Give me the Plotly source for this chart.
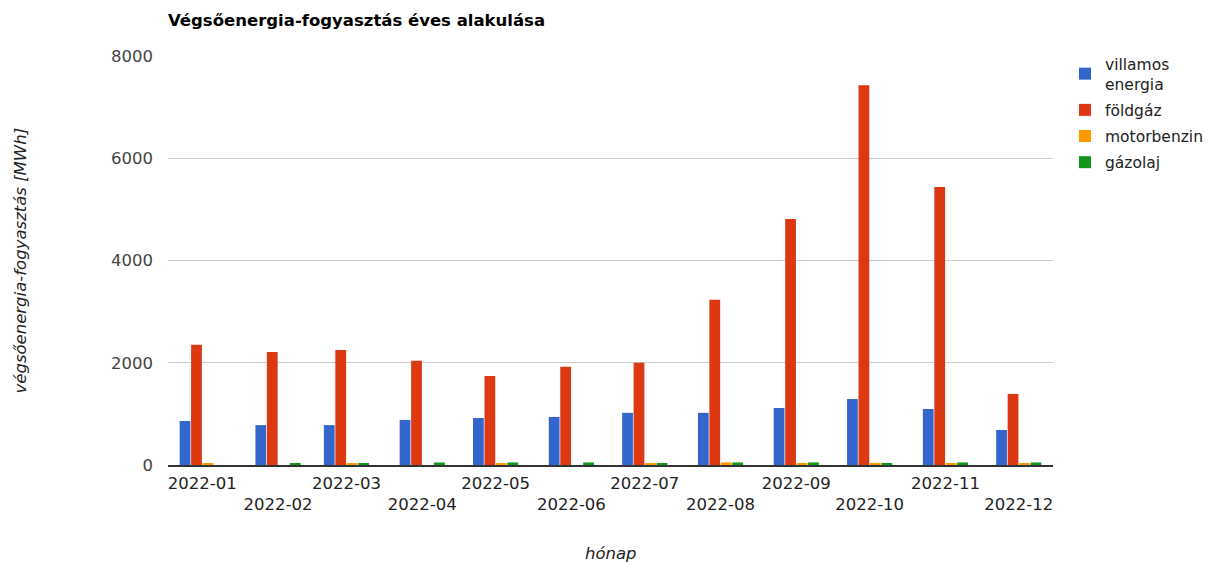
import plotly.graph_objects as go

months = ["2022-01", "2022-02", "2022-03", "2022-04", "2022-05", "2022-06",
          "2022-07", "2022-08", "2022-09", "2022-10", "2022-11", "2022-12"]
villamos_energia = [860, 780, 780, 880, 920, 940, 1020, 1020, 1115, 1290, 1095, 685]
foldgaz = [2350, 2210, 2250, 2040, 1740, 1920, 2000, 3230, 4810, 7430, 5440, 1390]
motorbenzin = [30, 0, 30, 0, 30, 0, 20, 50, 30, 30, 30, 30]
gazolaj = [0, 30, 30, 50, 50, 50, 30, 50, 50, 30, 50, 50]
y_ticks = [0, 2000, 4000, 6000, 8000]

tick_text = [m if i % 2 == 0 else "<br>" + m for i, m in enumerate(months)]

series = [
    ("villamos<br>energia", villamos_energia, "#3366cc"),
    ("földgáz", foldgaz, "#dc3912"),
    ("motorbenzin", motorbenzin, "#ff9900"),
    ("gázolaj", gazolaj, "#109618"),
]

FS = 16.5
PW = 885.0
PH = 409.0

fig = go.Figure()
for name, vals, color in series:
    fig.add_trace(go.Bar(x=months, y=vals, name=name, legendgroup=name,
                         marker=dict(color=color, line=dict(width=0))))

fig.update_layout(
    width=1208, height=554,
    margin=dict(l=160, r=163, t=48, b=97),
    paper_bgcolor="white", plot_bgcolor="white",
    barmode="group", bargap=0.33, bargroupgap=0.06,
    font=dict(family="DejaVu Sans", size=FS, color="#444"),
    title=dict(text="<b>Végsőenergia-fogyasztás éves alakulása</b>", x=160/1208, xanchor="left",
               y=1-12/554, yanchor="middle", font=dict(size=FS, color="#000")),
    legend=dict(xref="container", yref="container", x=1057/1208, xanchor="left",
                y=1-39/554, yanchor="top", font=dict(size=15.5, color="#222"),
                bgcolor="rgba(0,0,0,0)", tracegroupgap=3),
    showlegend=True,
)
fig.update_xaxes(
    tickmode="array", tickvals=months, ticktext=tick_text, tickangle=0,
    showgrid=False, showline=True, linecolor="#333", linewidth=2,
    ticks="", ticklabelstandoff=2, tickfont=dict(size=FS, color="#222"),
)
fig.update_yaxes(
    range=[0, 8000], tickmode="array", tickvals=y_ticks, ticktext=[str(v) for v in y_ticks],
    showgrid=True, gridcolor="#cccccc", gridwidth=1, zeroline=False,
    showline=False, ticks="", ticklabelstandoff=14, tickfont=dict(size=FS, color="#444"),
)
fig.add_annotation(text="<i>végsőenergia-fogyasztás [MWh]</i>", xref="paper", yref="paper",
                   x=(20-168)/PW, y=0.5, textangle=-90, showarrow=False,
                   xanchor="center", yanchor="middle", font=dict(size=FS, color="#222"))
fig.add_annotation(text="<i>hónap</i>", xref="paper", yref="paper",
                   x=0.5, y=-(553-465)/PH, showarrow=False,
                   xanchor="center", yanchor="middle", font=dict(size=FS, color="#222"))

fig.write_html("out.html")
